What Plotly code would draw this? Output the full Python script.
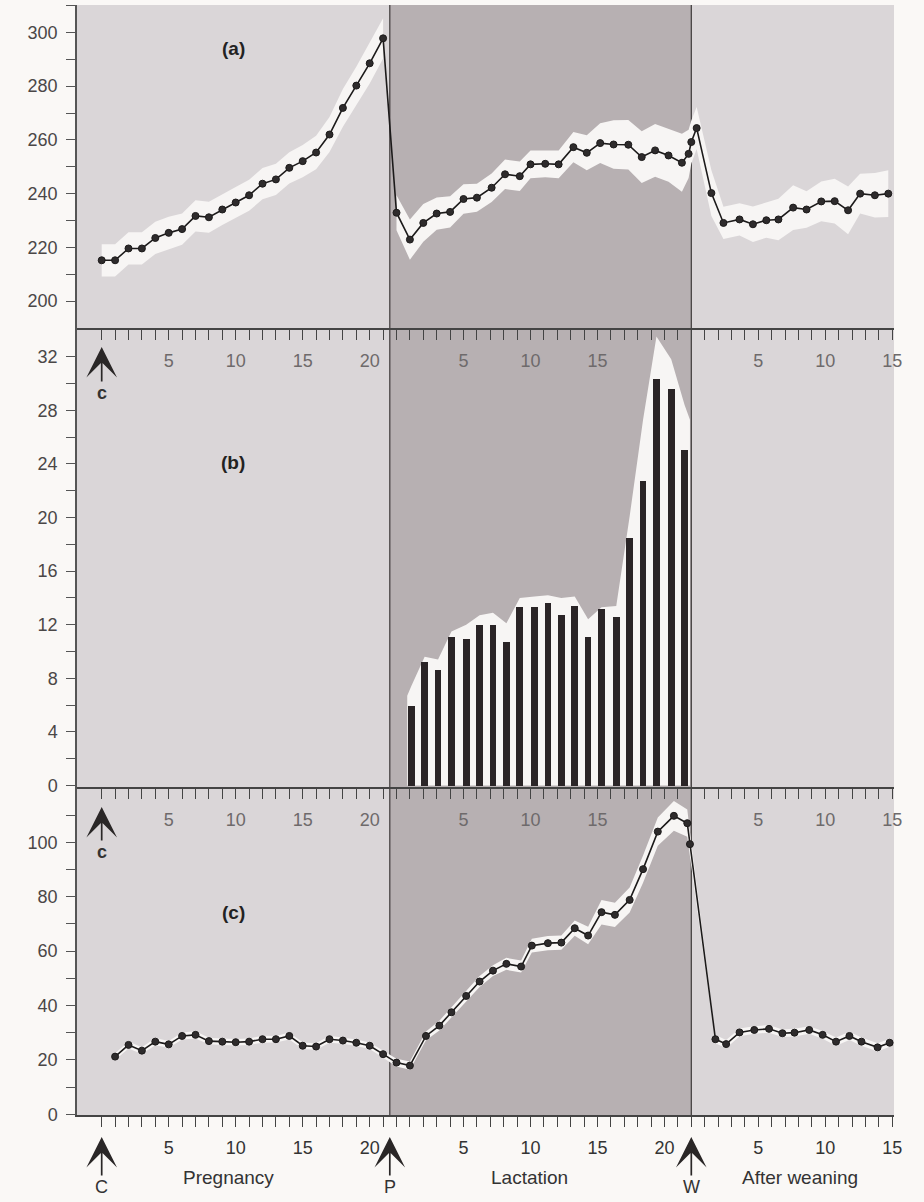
import plotly.graph_objects as go
from plotly.subplots import make_subplots

# ---------------- data ----------------
# phase starts on the common day axis
LACT_START = 22
WEAN_START = 44
P_MARK = 21.5
W_MARK = 44

# (a) pregnancy / lactation / after weaning
a_preg_day = list(range(22))
a_preg_val = [215.2, 215.2, 219.6, 219.6, 223.5, 225.4, 226.8, 231.7, 231.2, 234.1, 236.7,
              239.4, 243.7, 245.3, 249.6, 252.1, 255.3, 262.0, 271.9, 280.2, 288.5, 297.8]
a_preg_se = [6.0, 6.0, 6.0, 6.0, 6.0, 6.0, 5.8, 5.8, 5.8, 5.8, 5.8,
             5.8, 5.8, 5.8, 5.8, 6.0, 6.2, 6.5, 7.0, 7.0, 7.5, 7.5]
a_lact_day = [0, 1, 2, 3, 4, 5, 6, 7.1, 8.1, 9.2, 10, 11.1, 12.1, 13.2, 14.2, 15.2,
              16.2, 17.3, 18.3, 19.3, 20.3, 21.3, 21.8, 22.0]
a_lact_val = [232.9, 222.9, 229.1, 232.6, 233.2, 238.0, 238.5, 242.2, 247.2, 246.5, 250.9,
              251.1, 250.9, 257.3, 255.2, 258.8, 258.3, 258.2, 253.6, 256.1, 254.2, 251.5,
              254.8, 259.2]
a_lact_se = [6.5, 7.5, 7.0, 6.0, 5.8, 5.5, 5.2, 5.3, 5.5, 5.5, 5.2, 5.0, 5.2, 5.6, 6.5,
             7.4, 9.0, 9.2, 9.6, 9.8, 9.8, 10.8, 9.0, 8.0]
a_wean_day = [0.4, 1.5, 2.4, 3.6, 4.6, 5.6, 6.5, 7.6, 8.6, 9.7, 10.7, 11.7, 12.6, 13.7, 14.7]
a_wean_val = [264.4, 240.2, 229.1, 230.4, 228.6, 230.1, 230.4, 234.8, 234.1, 237.1, 237.2,
              233.8, 240.0, 239.4, 240.0]
a_wean_se = [7.8, 8.5, 6.0, 6.0, 6.6, 6.5, 7.7, 8.3, 6.8, 7.4, 8.3, 8.9, 7.4, 8.3, 8.7]

# (b) lactation bars
b_day = [1.1, 2.1, 3.1, 4.1, 5.2, 6.2, 7.2, 8.2, 9.2, 10.3, 11.3, 12.3, 13.3, 14.3, 15.3,
         16.4, 17.4, 18.4, 19.4, 20.5, 21.5]
b_val = [5.9, 9.2, 8.6, 11.1, 10.9, 12.0, 12.0, 10.7, 13.3, 13.3, 13.6, 12.7, 13.4, 11.1,
         13.2, 12.6, 18.5, 22.7, 30.3, 29.6, 25.0]
b_upper = [7.4, 9.6, 9.4, 11.5, 12.0, 12.7, 12.9, 12.1, 14.0, 14.1, 14.2, 14.0, 14.1, 12.4,
           13.3, 13.4, 20.1, 27.3, 33.5, 31.8, 28.4]

# (c)
c_preg_day = list(range(1, 22))
c_preg_val = [21.2, 25.5, 23.4, 26.7, 25.7, 28.8, 29.2, 26.9, 26.7, 26.5, 26.7, 27.6, 27.6,
              28.8, 25.2, 24.9, 27.6, 27.1, 26.3, 25.2, 22.1]
c_preg_se = [1.2, 1.3, 1.2, 1.3, 1.2, 1.3, 1.3, 1.2, 1.2, 1.2, 1.2, 1.3, 1.2, 1.3, 1.2, 1.2,
             1.3, 1.2, 1.2, 1.2, 1.3]
c_lact_day = [0, 1, 2.2, 3.2, 4.1, 5.2, 6.2, 7.2, 8.2, 9.3, 10.1, 11.3, 12.3, 13.3, 14.3,
              15.3, 16.3, 17.4, 18.4, 19.5, 20.7, 21.7, 21.9]
c_lact_val = [19.0, 17.9, 28.8, 32.6, 37.5, 43.5, 48.8, 52.8, 55.3, 54.3, 62.0, 62.9, 63.1,
              68.4, 65.7, 74.3, 73.3, 78.8, 90.1, 103.9, 109.7, 107.0, 99.3]
c_lact_se = [1.4, 1.5, 1.6, 1.8, 1.8, 1.8, 2.0, 2.0, 2.2, 2.2, 2.5, 2.6, 2.6, 2.8, 3.2, 4.5,
             4.5, 4.6, 5.0, 5.2, 5.5, 5.0, 4.5]
c_wean_day = [1.8, 2.6, 3.6, 4.7, 5.8, 6.8, 7.7, 8.8, 9.8, 10.8, 11.8, 12.7, 13.9, 14.8]
c_wean_val = [27.6, 25.8, 30.1, 31.0, 31.4, 29.8, 30.0, 31.0, 29.2, 26.7, 28.8, 26.7, 24.6, 26.3]
c_wean_se = [1.5, 1.5, 1.4, 1.4, 1.4, 1.4, 1.4, 1.4, 1.4, 1.5, 1.5, 1.5, 1.5, 1.5]

# axis tick labels (per phase)
preg_tick_labels = ["5", "10", "15", "20"]
lact_tick_labels_inner = ["5", "10", "15"]          # "20" hidden by the data in the reference
lact_tick_labels_bottom = ["5", "10", "15", "20"]
wean_tick_labels = ["5", "10", "15"]

# ---------------- style / geometry ----------------
FONT = "Liberation Sans, Arial, Helvetica, sans-serif"
PAPER = "#faf8f6"
LIGHT = "#dad6d8"
DARK = "#b7b0b2"
BAND = "#f7f5f4"
INK = "#1c1a1a"
W, H = 924, 1202
L, R, T, B = 77, 894, 5, 1115
PX_PER_DAY = 13.4
DAY0_PX = 101.7
x_range = [(L - DAY0_PX) / PX_PER_DAY, (R - DAY0_PX) / PX_PER_DAY]


def fy(Y):
    return (B - Y) / (B - T)


def fx(X):
    return (X - L) / (R - L)


def shift(days, start):
    return [start + d for d in days]


fig = make_subplots(rows=3, cols=1, vertical_spacing=0)


def add_band(xs, ys, es, row):
    lo = [y - e for y, e in zip(ys, es)]
    hi = [y + e for y, e in zip(ys, es)]
    fig.add_trace(go.Scatter(x=xs, y=lo, mode="lines", line=dict(width=0, color=BAND),
                             hoverinfo="skip", showlegend=False), row=row, col=1)
    fig.add_trace(go.Scatter(x=xs, y=hi, mode="lines", line=dict(width=0, color=BAND),
                             fill="tonexty", fillcolor=BAND, hoverinfo="skip",
                             showlegend=False), row=row, col=1)


def add_line(xs, ys, row):
    fig.add_trace(go.Scatter(x=xs, y=ys, mode="lines+markers",
                             line=dict(color=INK, width=1.6),
                             marker=dict(size=7, color="#2e2b2c", line=dict(color=INK, width=1)),
                             showlegend=False), row=row, col=1)


# panel (a)
ax_p = shift(a_preg_day, 0)
ax_l = shift(a_lact_day, LACT_START)
ax_w = shift(a_wean_day, WEAN_START)
add_band(ax_p, a_preg_val, a_preg_se, 1)
add_band(ax_l + ax_w, a_lact_val + a_wean_val, a_lact_se + a_wean_se, 1)
add_line(ax_p + ax_l + ax_w, a_preg_val + a_lact_val + a_wean_val, 1)

# panel (b): bars over a white upper envelope (envelope drawn as a shape below the traces)
bx = shift(b_day, LACT_START)
env_x = [bx[0] - 0.3] + bx + [bx[-1] + 0.4]
env_y = [b_upper[0] - 0.7] + b_upper + [b_upper[-1] - 1.1]
env_path = "M %.3f,0 " % env_x[0] + " ".join("L %.3f,%.3f" % (x, y) for x, y in zip(env_x, env_y)) \
           + " L %.3f,0 Z" % env_x[-1]
fig.add_trace(go.Bar(x=bx, y=b_val, width=0.5, marker=dict(color="#2a2426", line=dict(width=0)),
                     showlegend=False), row=2, col=1)

# panel (c)
cx_p = shift(c_preg_day, 0)
cx_l = shift(c_lact_day, LACT_START)
cx_w = shift(c_wean_day, WEAN_START)
add_band(cx_p + cx_l + cx_w, c_preg_val + c_lact_val + c_wean_val,
         c_preg_se + c_lact_se + c_wean_se, 3)
add_line(cx_p + cx_l + cx_w, c_preg_val + c_lact_val + c_wean_val, 3)

# ---------------- axes ----------------
tickvals = list(range(0, 60))


def make_ticktext(lact_labels):
    out = []
    for g in tickvals:
        if g < LACT_START:
            d, labs = g, preg_tick_labels
        elif g < WEAN_START:
            d, labs = g - LACT_START, lact_labels
        else:
            d, labs = g - WEAN_START, wean_tick_labels
        out.append(str(d) if str(d) in labs else "")
    return out


xcommon = dict(range=x_range, tickmode="array", tickvals=tickvals,
               ticks="outside", ticklen=10, tickwidth=1.3, tickcolor="#444",
               showline=True, linecolor="#444", linewidth=1.5, showgrid=False,
               zeroline=False, ticklabelstandoff=6)
fig.update_layout(
    xaxis=dict(**xcommon, ticktext=make_ticktext(lact_tick_labels_inner),
               tickfont=dict(family=FONT, size=18, color="#6e6a6b")),
    xaxis2=dict(**xcommon, ticktext=make_ticktext(lact_tick_labels_inner),
                tickfont=dict(family=FONT, size=18, color="#6e6a6b")),
    xaxis3=dict(**xcommon, ticktext=make_ticktext(lact_tick_labels_bottom),
                tickfont=dict(family=FONT, size=18, color="#333")),
)

ycommon = dict(ticks="outside", ticklen=9, tickwidth=1.3, tickcolor="#555",
               showline=True, linecolor="#555", linewidth=1.5, showgrid=False,
               zeroline=False, tickfont=dict(family=FONT, size=18, color="#4a4747"),
               ticklabelstandoff=5, tickmode="array")
ya_vals = list(range(200, 311, 10))
yb_vals = list(range(0, 33, 2))
yc_vals = list(range(0, 111, 10))
fig.update_layout(
    yaxis=dict(**ycommon, domain=[fy(328), 1.0], range=[190, 310.2], tickvals=ya_vals,
               ticktext=[str(v) if v % 20 == 0 and v <= 300 else "" for v in ya_vals]),
    yaxis2=dict(**ycommon, domain=[fy(787), fy(328)], range=[-0.11, 34.14], tickvals=yb_vals,
                ticktext=[str(v) if v % 4 == 0 else "" for v in yb_vals]),
    yaxis3=dict(**ycommon, domain=[0, fy(787)], range=[-0.26, 120.3], tickvals=yc_vals,
                ticktext=[str(v) if v % 20 == 0 and v <= 100 else "" for v in yc_vals]),
)

# ---------------- background phases & markers ----------------
shapes = [
    dict(type="rect", xref="x", yref="paper", x0=x_range[0], x1=P_MARK, y0=0, y1=1,
         fillcolor=LIGHT, line=dict(width=0), layer="below"),
    dict(type="rect", xref="x", yref="paper", x0=P_MARK, x1=W_MARK, y0=0, y1=1,
         fillcolor=DARK, line=dict(width=0), layer="below"),
    dict(type="rect", xref="x", yref="paper", x0=W_MARK, x1=x_range[1], y0=0, y1=1,
         fillcolor=LIGHT, line=dict(width=0), layer="below"),
    dict(type="line", xref="x", yref="paper", x0=P_MARK, x1=P_MARK, y0=0, y1=1,
         line=dict(color="#3c3838", width=1.2), layer="below"),
    dict(type="line", xref="x", yref="paper", x0=W_MARK, x1=W_MARK, y0=0, y1=1,
         line=dict(color="#3c3838", width=1.2), layer="below"),
    dict(type="path", xref="x2", yref="y2", path=env_path, fillcolor=BAND,
         line=dict(width=0), layer="below"),
]

annotations = []
for txt, Y in [("(a)", 48), ("(b)", 462), ("(c)", 912)]:
    annotations.append(dict(text="<b>%s</b>" % txt, xref="paper", yref="paper",
                            x=fx(233), y=fy(Y), xanchor="center", yanchor="middle",
                            showarrow=False, font=dict(family=FONT, size=19, color="#222")))

arrow_style = dict(showarrow=True, arrowhead=3, arrowsize=3.0, arrowwidth=1.7,
                   arrowcolor="#2a2727", ax=0, xref="x", yref="paper", axref="pixel",
                   ayref="pixel", xanchor="center", yanchor="middle")
for Y, ay in [(347, 46), (807, 45)]:
    annotations.append(dict(text="<b>c</b>", x=0, y=fy(Y), ay=ay,
                            font=dict(family=FONT, size=18, color="#333"), **arrow_style))
for txt, g in [("C", 0), ("P", P_MARK), ("W", W_MARK)]:
    annotations.append(dict(text=txt, x=g, y=fy(1137), ay=50,
                            font=dict(family=FONT, size=18, color="#333"), **arrow_style))
for txt, X in [("Pregnancy", 228), ("Lactation", 529), ("After weaning", 800)]:
    annotations.append(dict(text=txt, xref="paper", yref="paper", x=fx(X), y=fy(1177),
                            xanchor="center", yanchor="middle",
                            showarrow=False, font=dict(family=FONT, size=19, color="#333")))

fig.update_layout(
    width=W, height=H, autosize=False,
    margin=dict(l=L, r=W - R, t=T, b=H - B, pad=0),
    paper_bgcolor=PAPER, plot_bgcolor="rgba(0,0,0,0)",
    shapes=shapes, annotations=annotations, showlegend=False,
    bargap=0,
)

fig.write_html("out.html", config={"displayModeBar": False},
               post_script="document.body.style.margin='0';document.body.style.padding='0';")
